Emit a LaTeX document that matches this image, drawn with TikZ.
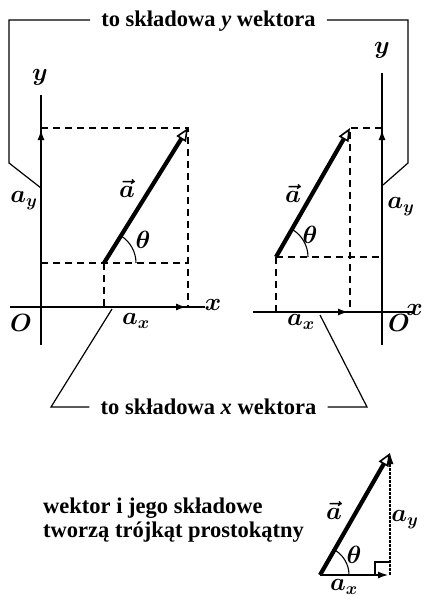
\documentclass[tikz,border=0pt]{standalone}
\usepackage{fontspec}
\setmainfont{Liberation Serif}
\usepackage{tikz}
\usetikzlibrary{arrows.meta}
\tikzset{
    axis/.style  = {line width=1.4pt},
    comp/.style  = {line width=2.5pt, -{Latex[length=11pt,width=7pt]}},
    vect/.style  = {line width=4.2pt, -{Triangle[open,length=13pt,width=11pt,line width=1.6pt]}},
    proj/.style  = {line width=1.2pt, dash pattern=on 7pt off 5pt},
    brack/.style = {line width=1.2pt},
    lab/.style   = {font=\fontsize{23}{25}\selectfont\boldmath, inner sep=0pt},
    note/.style  = {font=\fontsize{22.5}{25}\selectfont\bfseries, inner sep=0pt}
}

\begin{document}
\begin{tikzpicture}[x=1pt, y=-1pt, line cap=butt]
  \useasboundingbox (0,0) rectangle (423,599);

  % left panel
  \coordinate (lO) at (41,307);
  \coordinate (lA) at (104,263);
  \coordinate (lB) at (188,128);
  \draw[axis] (41,95) -- (41,345);
  \draw[axis] (10,307) -- (205,307);
  \draw[proj] (41,128) -- (lB) -- (188,307);
  \draw[proj] (41,263) -- (188,263);
  \draw[proj] (lA) -- (104,307);
  \draw[comp] (41,263) -- (41,129);
  \draw[comp] (104,307) -- (187,307);
  \draw[vect] (lA) -- (lB);
  \draw[line width=1.1pt] ([xshift=32pt]lA) arc[start angle=0, end angle=-58, radius=32];
  \node[lab] (ly)  at (40,77)   {$y$};
  \node[lab] (lx)  at (213,305) {$x$};
  \node[lab] (lOl) at (21,323)  {$O$};
  \node[lab] (lax) at (136,321) {$a_x$};
  \node[lab] (lay) at (24,201)  {$a_y$};
  \node[lab] (lav) at (127,188) {$\vec{a}$};
  \node[lab] (lth) at (143,240) {$\theta$};

  % right panel
  \coordinate (rO) at (382,312);
  \coordinate (rA) at (276,257);
  \coordinate (rB) at (350,128);
  \draw[axis] (382,73) -- (382,345);
  \draw[axis] (253,312) -- (415,312);
  \draw[proj] (382,128) -- (rB) -- (350,312);
  \draw[proj] (rA) -- (382,257);
  \draw[proj] (rA) -- (276,312);
  \draw[comp] (382,257) -- (382,129);
  \draw[comp] (276,312) -- (349,312);
  \draw[vect] (rA) -- (rB);
  \draw[line width=1.1pt] ([xshift=32pt]rA) arc[start angle=0, end angle=-60, radius=32];
  \node[lab] (ry)  at (382,50)  {$y$};
  \node[lab, anchor=east] (rx) at (423,310) {$x$};
  \node[lab] (rOl) at (399,323) {$O$};
  \node[lab] (rax) at (301,322) {$a_x$};
  \node[lab] (ray) at (401,207) {$a_y$};
  \node[lab] (rav) at (293,193) {$\vec{a}$};
  \node[lab] (rth) at (310,235) {$\theta$};

  % brackets
  \node[note, anchor=base] (ytxt) at (208.5,27) {to składowa \textit{y} wektora};
  \node[note, anchor=base] (xtxt) at (208.5,414) {to składowa \textit{x} wektora};
  \draw[brack] ([xshift=-11pt,yshift=7pt]ytxt.base west) -- (9,20) -- (9,163) -- (41,188);
  \draw[brack] ([xshift=11pt,yshift=7pt]ytxt.base east) -- (408,20) -- (408,163) -- (383,185);
  \draw[brack] ([xshift=-11pt,yshift=7pt]xtxt.base west) -- (51,407) -- (112,309);
  \draw[brack] ([xshift=11pt,yshift=7pt]xtxt.base east) -- (367,407) -- (320,315);

  % triangle
  \coordinate (tA) at (320,575);
  \coordinate (tB) at (390,453);
  \coordinate (tC) at (390,575);
  \draw[line width=1.2pt, dash pattern=on 3pt off 1pt, -{Latex[length=11pt,width=7pt]}] (tC) -- (tB);
  \draw[comp] (tA) -- (389,575);
  \draw[vect] (tA) -- (tB);
  \draw[line width=1.1pt] (375,575) -- (375,562) -- (390,562);
  \draw[line width=1.1pt] ([xshift=29pt]tA) arc[start angle=0, end angle=-60, radius=29];
  \node[lab] (tav) at (334,510) {$\vec{a}$};
  \node[lab] (tth) at (354,555) {$\theta$};
  \node[lab] (tay) at (405,520) {$a_y$};
  \node[lab] (tax) at (344,587) {$a_x$};
  \node[note, anchor=base west] (note1) at (43,513) {wektor i jego składowe};
  \node[note, anchor=base west] (note2) at (43,537) {tworzą trójkąt prostokątny};
\end{tikzpicture}
\end{document}
